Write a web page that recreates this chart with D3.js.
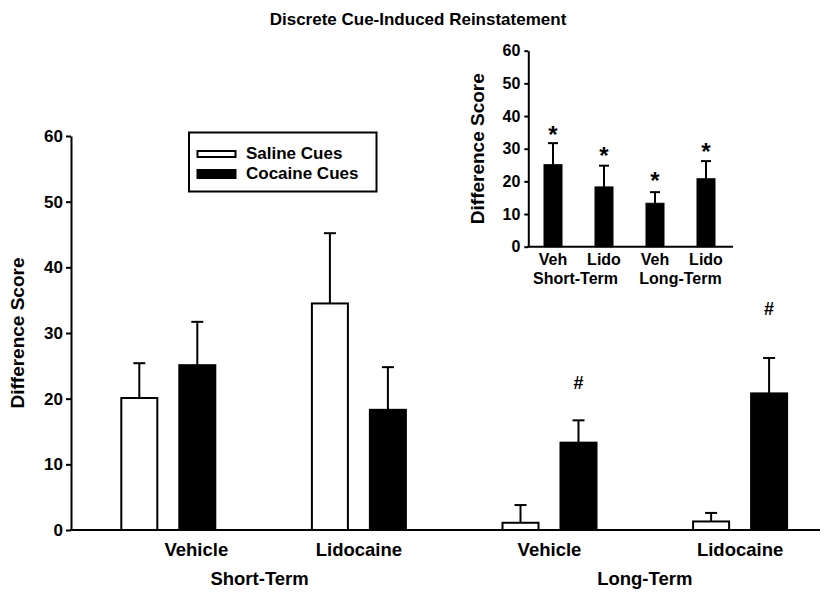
<!DOCTYPE html>
<html>
<head>
<meta charset="utf-8">
<script src="https://cdn.jsdelivr.net/npm/d3@7"></script>
<style>
  html, body { margin: 0; padding: 0; background: #fff; }
  svg { display: block; font-family: "Liberation Sans", Arial, Helvetica, sans-serif; font-weight: bold; }
</style>
</head>
<body>
<svg id="chart" width="831" height="594"></svg>
<script>
// ---- data ----
const title = "Discrete Cue-Induced Reinstatement";
const groups = ["ST-Vehicle", "ST-Lidocaine", "LT-Vehicle", "LT-Lidocaine"];
const groupLabels = ["Vehicle", "Lidocaine", "Vehicle", "Lidocaine"];
const termLabels = ["Short-Term", "Long-Term"];
const seriesNames = ["Saline Cues", "Cocaine Cues"];
const salineMean = [20.1, 34.5, 1.1, 1.3];
const salineSem = [5.3, 10.7, 2.7, 1.3];
const cocaineMean = [25.1, 18.3, 13.3, 20.8];
const cocaineSem = [6.6, 6.5, 3.4, 5.4];
const hashLevel = [null, null, 22.4, 33.8];   // "#" annotation heights (score units)
const yTicks = [0, 10, 20, 30, 40, 50, 60];
const yLabel = "Difference Score";
// inset
const insetLabels = ["Veh", "Lido", "Veh", "Lido"];
const insetTerms = ["Short-Term", "Long-Term"];
const insetStarLevel = [35.4, 29.0, 21.3, 30.2]; // "*" annotation heights

const svg = d3.select("#chart");

// ---- title ----
svg.append("text").attr("x", 418).attr("y", 25).attr("text-anchor", "middle")
  .attr("font-size", 17).text(title);

// ---- main chart ----
const y = d3.scaleLinear().domain([0, 60]).range([530, 136]);
const x = d3.scaleBand().domain(groups).range([73, 835.4]).paddingInner(0).paddingOuter(0);
const xs = d3.scaleBand().domain(seriesNames).range([-47, 47]).paddingInner(0.379).paddingOuter(0);

const yAxis = d3.axisLeft(y).tickValues(yTicks).tickSize(5).tickSizeOuter(0).tickPadding(3);
const gy = svg.append("g").attr("transform", "translate(71,0)").call(yAxis);
gy.select(".domain").attr("stroke", "#000").attr("stroke-width", 2);
gy.selectAll(".tick line").attr("stroke", "#000").attr("stroke-width", 2);
gy.selectAll(".tick text").attr("font-size", 17).attr("font-weight", "bold").attr("fill", "#000")
  .attr("font-family", "Liberation Sans, Arial, sans-serif");

svg.append("line").attr("x1", 70).attr("x2", 820).attr("y1", y(0)).attr("y2", y(0))
  .attr("stroke", "#000").attr("stroke-width", 2);

svg.append("text").attr("transform", `translate(24,${(y(0)+y(60))/2}) rotate(-90)`)
  .attr("text-anchor", "middle").attr("font-size", 19).text(yLabel);

const barData = [];
groups.forEach((g, i) => {
  barData.push({g, s: seriesNames[0], v: salineMean[i], e: salineSem[i], fill: "#fff"});
  barData.push({g, s: seriesNames[1], v: cocaineMean[i], e: cocaineSem[i], fill: "#000"});
});

const bars = svg.append("g");
const bw = xs.bandwidth();
// error bars (behind)
bars.selectAll("line.err").data(barData).join("line").attr("class", "err")
  .attr("x1", d => x(d.g) + x.bandwidth()/2 + xs(d.s) + bw/2)
  .attr("x2", d => x(d.g) + x.bandwidth()/2 + xs(d.s) + bw/2)
  .attr("y1", d => y(d.v)).attr("y2", d => y(d.v + d.e))
  .attr("stroke", "#000").attr("stroke-width", 2);
bars.selectAll("line.cap").data(barData).join("line").attr("class", "cap")
  .attr("x1", d => x(d.g) + x.bandwidth()/2 + xs(d.s) + bw/2 - 6)
  .attr("x2", d => x(d.g) + x.bandwidth()/2 + xs(d.s) + bw/2 + 6)
  .attr("y1", d => y(d.v + d.e)).attr("y2", d => y(d.v + d.e))
  .attr("stroke", "#000").attr("stroke-width", 2);
bars.selectAll("rect").data(barData).join("rect")
  .attr("x", d => x(d.g) + x.bandwidth()/2 + xs(d.s))
  .attr("y", d => y(d.v)).attr("width", bw).attr("height", d => y(0) - y(d.v))
  .attr("fill", d => d.fill).attr("stroke", "#000").attr("stroke-width", 2);

// # annotations
svg.append("g").selectAll("text").data(groups.map((g, i) => ({g, h: hashLevel[i]})).filter(d => d.h !== null))
  .join("text")
  .attr("x", d => x(d.g) + x.bandwidth()/2 + xs(seriesNames[1]) + bw/2)
  .attr("y", d => y(d.h) + 6.5).attr("text-anchor", "middle").attr("font-size", 18).text("#");

// group labels
svg.append("g").selectAll("text").data(groups).join("text")
  .attr("x", (d, i) => x(d) + x.bandwidth()/2 + (i === 0 ? 28 : 0))
  .attr("y", 556).attr("text-anchor", "middle").attr("font-size", 18.5)
  .text((d, i) => groupLabels[i]);
svg.append("g").selectAll("text").data(termLabels).join("text")
  .attr("x", (d, i) => (x(groups[2*i]) + x(groups[2*i+1]) + x.bandwidth())/2 - (i === 0 ? 4 : 0))
  .attr("y", 585).attr("text-anchor", "middle").attr("font-size", 18.5).text(d => d);

// legend
const lg = svg.append("g");
lg.append("rect").attr("x", 189).attr("y", 132.5).attr("width", 187.5).attr("height", 59)
  .attr("fill", "#fff").attr("stroke", "#000").attr("stroke-width", 2);
seriesNames.forEach((s, i) => {
  lg.append("rect").attr("x", 197.5).attr("y", 151 + i*19).attr("width", 38).attr("height", i ? 8 : 6)
    .attr("fill", i ? "#000" : "#fff").attr("stroke", "#000").attr("stroke-width", 2);
  lg.append("text").attr("x", 246).attr("y", 158.5 + i*20).attr("font-size", 17).text(s);
});

// ---- inset ----
const iy = d3.scaleLinear().domain([0, 60]).range([246.7, 50.7]);
const ix = d3.scaleBand().domain(groups).range([527.5, 731.5]).paddingInner(0.647).paddingOuter(0.3235);
const iyAxis = d3.axisLeft(iy).tickValues(yTicks).tickSize(4).tickSizeOuter(0).tickPadding(4);
const giy = svg.append("g").attr("transform", "translate(528.3,0)").call(iyAxis);
giy.select(".domain").attr("stroke", "#000").attr("stroke-width", 2);
giy.selectAll(".tick line").attr("stroke", "#000").attr("stroke-width", 2);
giy.selectAll(".tick text").attr("font-size", 16).attr("font-weight", "bold").attr("fill", "#000")
  .attr("font-family", "Liberation Sans, Arial, sans-serif");
svg.append("line").attr("x1", 527.3).attr("x2", 733).attr("y1", iy(0)).attr("y2", iy(0))
  .attr("stroke", "#000").attr("stroke-width", 2);
svg.append("text").attr("transform", `translate(484,${(iy(0)+iy(60))/2}) rotate(-90)`)
  .attr("text-anchor", "middle").attr("font-size", 19).text(yLabel);

const inset = svg.append("g");
const ibw = ix.bandwidth();
const idata = groups.map((g, i) => ({g, v: cocaineMean[i], e: cocaineSem[i], star: insetStarLevel[i], lab: insetLabels[i]}));
inset.selectAll("line.err").data(idata).join("line").attr("class", "err")
  .attr("x1", d => ix(d.g) + ibw/2).attr("x2", d => ix(d.g) + ibw/2)
  .attr("y1", d => iy(d.v)).attr("y2", d => iy(d.v + d.e))
  .attr("stroke", "#000").attr("stroke-width", 2);
inset.selectAll("line.cap").data(idata).join("line").attr("class", "cap")
  .attr("x1", d => ix(d.g) + ibw/2 - 5).attr("x2", d => ix(d.g) + ibw/2 + 5)
  .attr("y1", d => iy(d.v + d.e)).attr("y2", d => iy(d.v + d.e))
  .attr("stroke", "#000").attr("stroke-width", 2);
inset.selectAll("rect").data(idata).join("rect")
  .attr("x", d => ix(d.g)).attr("y", d => iy(d.v)).attr("width", ibw).attr("height", d => iy(0) - iy(d.v))
  .attr("fill", "#000").attr("stroke", "#000").attr("stroke-width", 1);
inset.selectAll("text.star").data(idata).join("text").attr("class", "star")
  .attr("x", d => ix(d.g) + ibw/2).attr("y", d => iy(d.star) + 12)
  .attr("text-anchor", "middle").attr("font-size", 24).text("*");
inset.selectAll("text.lab").data(idata).join("text").attr("class", "lab")
  .attr("x", d => ix(d.g) + ibw/2).attr("y", 265).attr("text-anchor", "middle")
  .attr("font-size", 16).text(d => d.lab);
inset.selectAll("text.term").data(insetTerms).join("text").attr("class", "term")
  .attr("x", (d, i) => (ix(groups[2*i]) + ix(groups[2*i+1]) + ibw)/2 - (i === 0 ? 3 : 0))
  .attr("y", 284).attr("text-anchor", "middle").attr("font-size", 16).text(d => d);
</script>
</body>
</html>
